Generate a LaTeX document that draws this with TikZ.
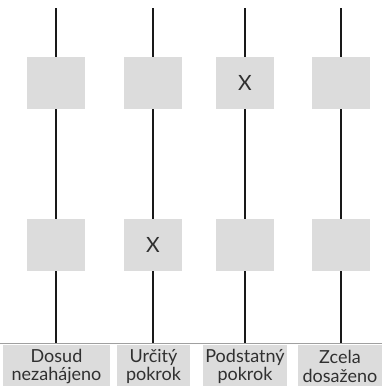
\documentclass[tikz,border=0pt]{standalone}
\usepackage{fontspec}
\setmainfont{Lato}
\definecolor{cellgray}{HTML}{DCDCDC}
\definecolor{txt}{HTML}{303030}
\definecolor{rule}{HTML}{A0A0A0}
\begin{document}
\begin{tikzpicture}[x=1pt,y=-1pt,
  cell/.style={fill=cellgray, minimum width=58pt, minimum height=52pt, inner sep=0pt,
    font=\fontsize{21}{23}\selectfont, text=txt},
  lab/.style={inner sep=0pt, align=center,
    font=\fontsize{18}{18.5}\selectfont, text=txt},
  vline/.style={line width=1.4pt, draw=black!90},
  hline/.style={line width=1pt, draw=rule}]
\useasboundingbox (0,0) rectangle (382,386);
% column tops and bottoms
\foreach \i/\x in {1/56,2/153,3/245,4/341}{
  \coordinate (s\i) at (\x,8);
  \coordinate (e\i) at (\x,343);
}
\coordinate (hl0) at (0,343);
\coordinate (hl1) at (382,343);
\foreach \i in {1,...,4}{ \draw[vline] (s\i) -- (e\i); }
\draw[hline] (hl0) -- (hl1);
% cells
\node[cell] (t1) at (56,83) {};
\node[cell] (t2) at (153,83) {};
\node[cell] (t3) at (245,83) {X};
\node[cell] (t4) at (341,83) {};
\node[cell] (b1) at (56,245) {};
\node[cell] (b2) at (153,245) {X};
\node[cell] (b3) at (245,245) {};
\node[cell] (b4) at (341,245) {};
% labels
\path[fill=cellgray] (3,345) rectangle (110,387);
\path[fill=cellgray] (117,345) rectangle (190,387);
\path[fill=cellgray] (203,345) rectangle (287,387);
\path[fill=cellgray] (298,345) rectangle (382,387);
\node[lab] (l1) at (56.5,366.5) {Dosud\\nezahájeno};
\node[lab] (l2) at (153.5,366.5) {Určitý\\pokrok};
\node[lab] (l3) at (245,366.5) {Podstatný\\pokrok};
\node[lab] (l4) at (340,366.5) {Zcela\\dosaženo};
\end{tikzpicture}
\end{document}
